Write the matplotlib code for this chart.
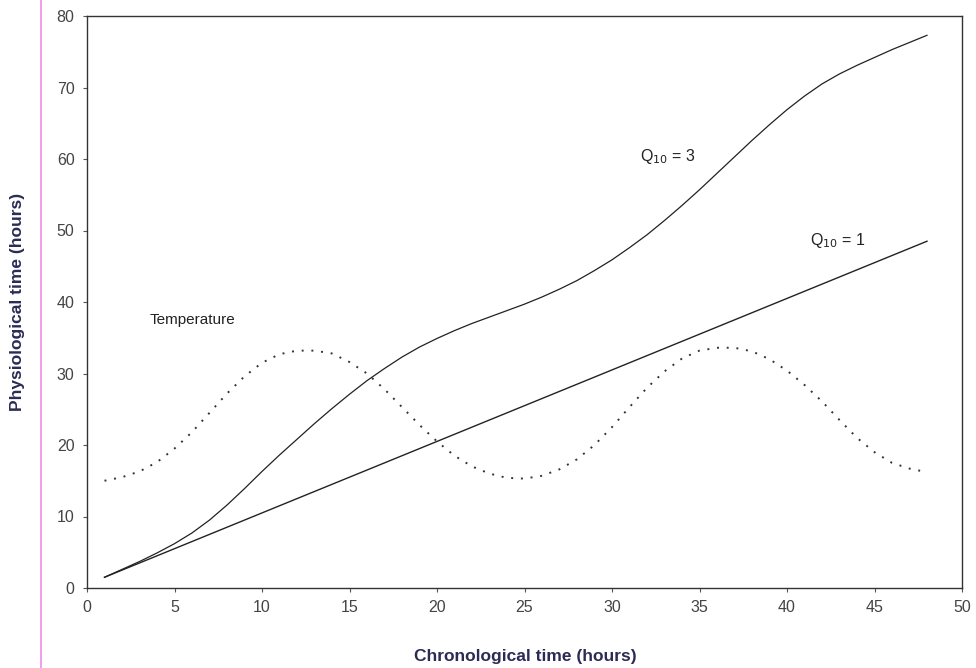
import matplotlib
matplotlib.use("Agg")
import matplotlib.pyplot as plt
from matplotlib.lines import Line2D

plt.rcParams['font.family'] = ['Liberation Sans', 'DejaVu Sans']

hours = list(range(1, 49))
q10_1 = [h + 0.5 for h in hours]
q10_3 = [1.5, 2.6, 3.7, 4.9, 6.2, 7.7, 9.5, 11.6, 13.9, 16.3,
         18.6, 20.8, 23.0, 25.1, 27.1, 29.0, 30.7, 32.3, 33.7, 34.9,
         36.0, 37.0, 37.9, 38.8, 39.7, 40.7, 41.8, 43.0, 44.4, 45.9,
         47.6, 49.4, 51.4, 53.5, 55.7, 58.0, 60.3, 62.6, 64.8, 66.9,
         68.8, 70.5, 71.9, 73.1, 74.2, 75.3, 76.3, 77.3]
temperature = [15.0, 15.5, 16.3, 17.6, 19.5, 21.8, 24.5, 27.2, 29.6, 31.5,
               32.7, 33.2, 33.2, 32.8, 31.6, 30.0, 27.8, 25.3, 22.8, 20.5,
               18.5, 17.0, 16.0, 15.4, 15.3, 15.7, 16.6, 18.0, 20.0, 22.5,
               25.3, 28.0, 30.3, 32.1, 33.2, 33.6, 33.6, 33.1, 32.0, 30.4,
               28.4, 26.1, 23.5, 21.0, 19.0, 17.5, 16.7, 16.2]

xticks = [0, 5, 10, 15, 20, 25, 30, 35, 40, 45, 50]
yticks = [0, 10, 20, 30, 40, 50, 60, 70, 80]

fig = plt.figure(figsize=(9.76, 6.68), dpi=100)
ax = fig.add_axes([87/976, 80/668, (962-87)/976, (588-16)/668])

ax.plot(hours, q10_1, color='#222222', lw=1.0)
ax.plot(hours, q10_3, color='#222222', lw=0.9)
ax.plot(hours, temperature, color='#333333', lw=1.4, linestyle=(0, (1, 4)))

ax.set_xlim(0, 50)
ax.set_ylim(0, 80)
ax.set_xticks(xticks)
ax.set_yticks(yticks)
ax.tick_params(direction='out', length=3, width=0.8, colors='#555555',
               labelsize=11.5, labelcolor='#444444', pad=6)
for s in ax.spines.values():
    s.set_color('#333333')
    s.set_linewidth(1.0)

ax.text(31.6, 60.3, r'Q$_{10}$ = 3', fontsize=11.5, color='#222222', va='center')
ax.text(41.3, 48.6, r'Q$_{10}$ = 1', fontsize=11.5, color='#222222', va='center')
ax.text(3.6, 37.5, 'Temperature', fontsize=11, color='#222222', va='center')

fig.text(18/976, 1 - 302/668, 'Physiological time (hours)', rotation=90,
         fontsize=12.5, fontweight='bold', color='#2b2b55', ha='center', va='center')
fig.text(525/976, 1 - 657/668, 'Chronological time (hours)',
         fontsize=12.5, fontweight='bold', color='#2b2b55', ha='center', va='center')

fig.add_artist(Line2D([41/976, 41/976], [0, 1], transform=fig.transFigure,
                      color='#f08cf0', lw=1.2))

fig.savefig('out.png', dpi=100)
